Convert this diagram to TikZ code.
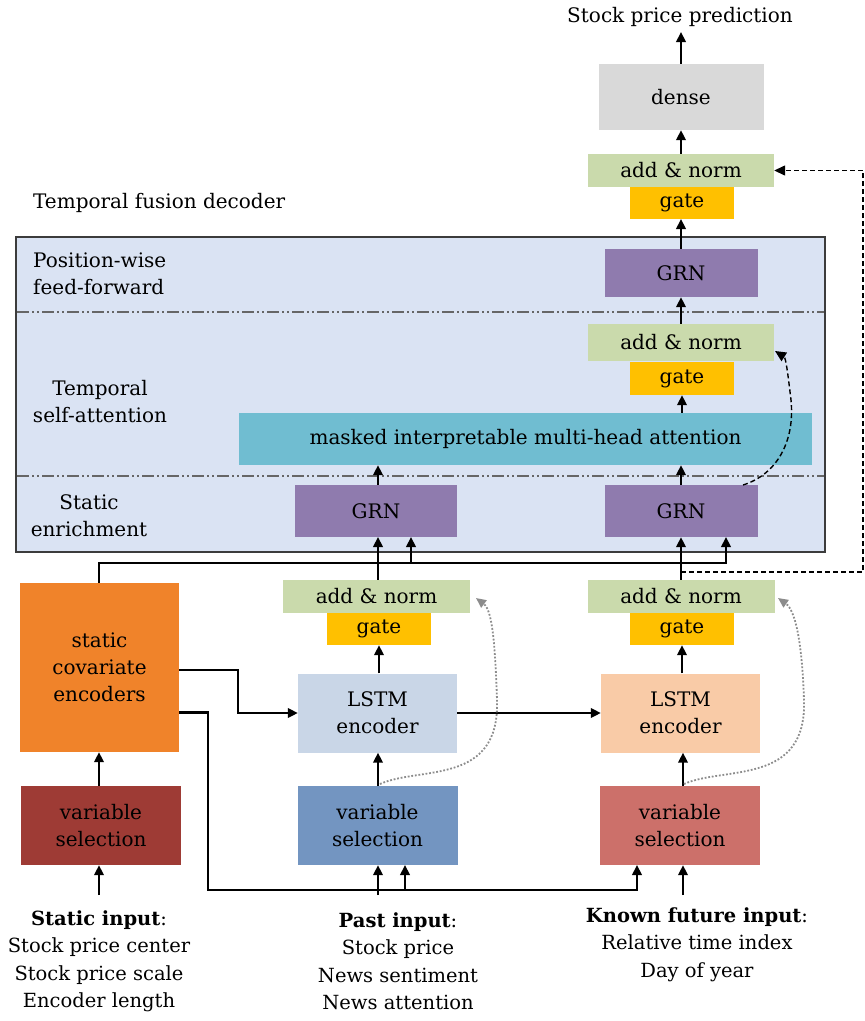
\documentclass[tikz,border=0pt]{standalone}
\usepackage{fontspec}
\setmainfont{DejaVu Serif}
\usetikzlibrary{arrows.meta,calc}
\definecolor{cdense}{HTML}{D9D9D9}
\definecolor{cadd}{HTML}{CADAAC}
\definecolor{cgate}{HTML}{FFC000}
\definecolor{cbig}{HTML}{DAE3F3}
\definecolor{cbord}{HTML}{3C3C3C}
\definecolor{cgrn}{HTML}{8F7BAE}
\definecolor{cattn}{HTML}{70BDD1}
\definecolor{cstat}{HTML}{F0832A}
\definecolor{cvs0}{HTML}{9E3B35}
\definecolor{clstma}{HTML}{C9D6E7}
\definecolor{cvsa}{HTML}{7395C1}
\definecolor{clstmb}{HTML}{F9CBA7}
\definecolor{cvsb}{HTML}{CC706A}
\begin{document}
\begin{tikzpicture}[x=1pt,y=-1pt,
  font=\fontsize{20}{27}\selectfont,
  blk/.style={inner sep=0pt, align=center, text=black},
  lbl/.style={inner sep=0pt, align=center, text=black},
  arr/.style={line width=2.2pt, -{Triangle[length=10pt,width=9.5pt]}},
  dasharr/.style={line width=1.4pt, dash pattern=on 5pt off 3pt, -{Triangle[length=11pt,width=10pt]}},
  dotarr/.style={line width=1.8pt, color=black!45, dash pattern=on 1.8pt off 1.8pt, -{Triangle[length=10pt,width=9pt]}},
  ddl/.style={line width=1.7pt, color=black!60, dash pattern=on 12pt off 3pt on 2pt off 3pt on 2pt off 3pt},
  addn/.style={blk, fill=cadd, minimum width=186pt, minimum height=33pt},
  gatebox/.style={blk, fill=cgate, minimum width=104pt, minimum height=32pt},
  grnbox/.style={blk, fill=cgrn, minimum height=52pt},
  vsbox/.style={blk, minimum width=160pt, minimum height=79pt},
]
\useasboundingbox (0,0) rectangle (865,1021);

% decoder frame
\fill[cbig] (16,237) rectangle (825,552);
\draw[ddl] (17,312) -- (824,312);
\draw[ddl] (17,476) -- (824,476);
\draw[cbord, line width=2.2pt] (16,237) rectangle (825,552);

% labels
\node[lbl] (pred) at (680,17) {Stock price prediction};
\node[lbl, anchor=west] (tfd) at (33,203) {Temporal fusion decoder};
\node[lbl, anchor=west, align=left] (pwff) at (33,273.5) {Position-wise\\feed-forward};
\node[lbl] (tsa) at (100,402) {Temporal\\self-attention};
\node[lbl] (senr) at (89,515.5) {Static\\enrichment};

% right column top
\node[blk, fill=cdense, minimum width=165pt, minimum height=66pt] (dense) at (681,97) {dense};
\node[addn] (an4) at (681,170.5) {add \& norm};
\node[gatebox] (g4) at (682,203) {gate};
\node[grnbox, minimum width=153pt, minimum height=48pt] (grn3) at (681,273) {GRN};
\node[addn, minimum height=37pt] (an3) at (681,342.5) {add \& norm};
\node[gatebox, minimum height=33pt] (g3) at (682,378.5) {gate};
\node[blk, fill=cattn, minimum width=573pt, minimum height=52pt] (attn) at (525.5,439) {masked interpretable multi-head attention};
\node[grnbox, minimum width=162pt] (grn1) at (376,511) {GRN};
\node[grnbox, minimum width=153pt] (grn2) at (681,511) {GRN};

% lower blocks
\node[addn, minimum width=187pt] (an1) at (376.5,596.5) {add \& norm};
\node[gatebox] (g1) at (379,629) {gate};
\node[addn, minimum width=187pt] (an2) at (681,596.5) {add \& norm};
\node[gatebox] (g2) at (682,629) {gate};
\node[blk, fill=cstat, minimum width=159pt, minimum height=169pt] (stat) at (99.5,667.5) {static\\covariate\\encoders};
\node[blk, fill=clstma, minimum width=159pt, minimum height=79pt] (lstm1) at (377.5,713) {LSTM\\encoder};
\node[blk, fill=clstmb, minimum width=159pt, minimum height=79pt] (lstm2) at (680.5,713) {LSTM\\encoder};
\node[vsbox, fill=cvs0] (vs0) at (101,825.5) {variable\\selection};
\node[vsbox, fill=cvsa] (vs1) at (377.5,825.5) {variable\\selection};
\node[vsbox, fill=cvsb] (vs2) at (680,825.5) {variable\\selection};

% bottom labels
\node[lbl, font=\fontsize{19.5}{27.5}\selectfont] (inS) at (99,961) {\textbf{Static input}:\\Stock price center\\Stock price scale\\Encoder length};
\node[lbl, font=\fontsize{19.5}{27.5}\selectfont] (inP) at (398,961) {\textbf{Past input}:\\Stock price\\News sentiment\\News attention};
\node[lbl, font=\fontsize{19.5}{27.5}\selectfont] (inF) at (697,944.5) {\textbf{Known future input}:\\Relative time index\\Day of year};

% coordinates
\coordinate (topout) at (681,32);
\coordinate (g1b) at (411,537);
\coordinate (g2b) at (726,537);
\coordinate (jn) at (99,563);
\coordinate (s0in) at (99,895);
\coordinate (s1in) at (378,895);
\coordinate (s2in) at (683,895);
\coordinate (vs1b) at (405,865);
\coordinate (vs2b) at (637,865);
\coordinate (dsplit) at (681,572);

% main arrows
\draw[arr] (dense.north) -- (topout);
\draw[arr] (an4.north) -- (dense.south);
\draw[arr] (grn3.north) -- (681,219);
\draw[arr] (an3.north) -- (grn3.south);
\draw[arr] (attn.north -| g3) -- (g3.south);
\draw[arr] (grn1.north -| 378,0) -- (attn.south -| 378,0);
\draw[arr] (grn2.north) -- (attn.south -| grn2);
\draw[arr] (an1.north -| 378,0) -- (378,537);
\draw[arr] (an2.north) -- (grn2.south);
\draw[arr] (stat.north -| jn) -- (jn) -| (g2b);
\draw[arr] (411,563) -- (g1b);
\draw[arr] (lstm1.north -| 379,0) -- (g1.south);
\draw[arr] (lstm2.north -| 682,0) -- (g2.south);
\draw[arr] (lstm1.east) -- (lstm2.west);
\draw[arr] ([yshift=-2.5pt]stat.east) -| ($(lstm1.west)+(-60,0)$) -- (lstm1.west);
\draw[arr] ([yshift=-45pt]stat.east) -| (208,890) -| (vs2b);
\draw[arr] (405,890) -- (vs1b);
\draw[arr] (vs0.north -| 99,0) -- (stat.south -| 99,0);
\draw[arr] (vs1.north -| 378,0) -- (lstm1.south -| 378,0);
\draw[arr] (vs2.north -| 683,0) -- (lstm2.south -| 683,0);
\draw[arr] (s0in) -- (vs0.south -| s0in);
\draw[arr] (s1in) -- (vs1.south -| s1in);
\draw[arr] (s2in) -- (vs2.south -| s2in);

% skip connections
\draw[dasharr] (dsplit) -- (863,572) -- (863,170.5) -- (an4.east);
\draw[dasharr] (743,485) .. controls (778,474) and (795,440) .. (791,400) .. controls (788,375) and (786,358) .. (775,351);
\draw[dotarr] (380,784) .. controls (420,766) and (500,786) .. (497,700) .. controls (495,640) and (492,610) .. (476,598);
\draw[dotarr] (684,784) .. controls (724,766) and (807,786) .. (804,700) .. controls (802,640) and (795,610) .. (778,598);
\end{tikzpicture}
\end{document}
